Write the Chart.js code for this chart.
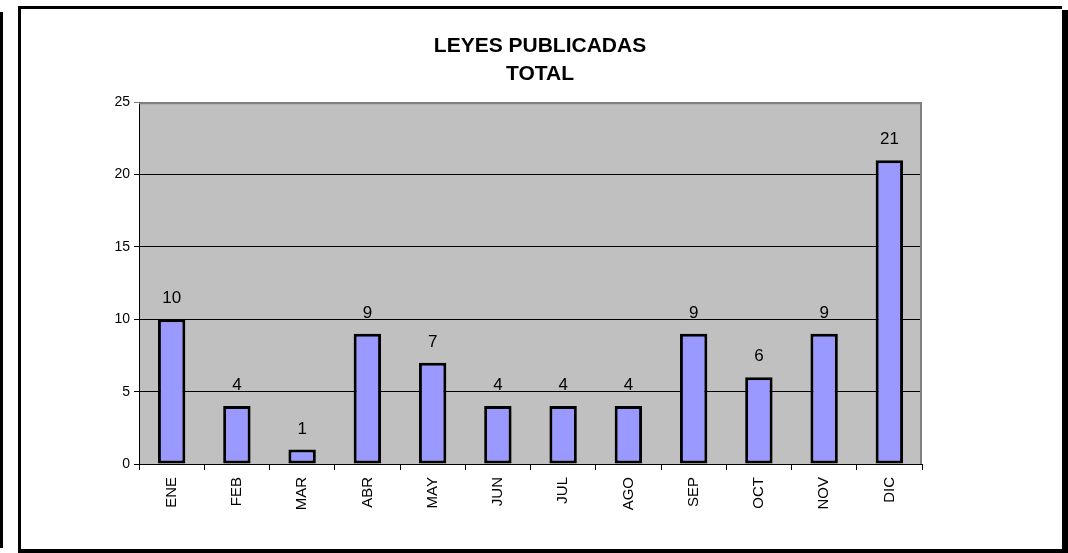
<!DOCTYPE html>
<html>
<head>
<meta charset="utf-8">
<script src="https://cdn.jsdelivr.net/npm/chart.js@4/dist/chart.umd.min.js"></script>
<style>
html,body{margin:0;padding:0;background:#fff;}
#wrap{position:absolute;left:0;top:0;width:1068px;height:553px;}
</style>
</head>
<body>
<div id="wrap"><canvas id="c" width="1068" height="553"></canvas></div>
<script>
const titleLines = ['LEYES PUBLICADAS', 'TOTAL'];
const months = ['ENE','FEB','MAR','ABR','MAY','JUN','JUL','AGO','SEP','OCT','NOV','DIC'];
const leyes = [10, 4, 1, 9, 7, 4, 4, 4, 9, 6, 9, 21];
const yTicks = [0, 5, 10, 15, 20, 25];

const FONT = "'Liberation Sans', Arial, sans-serif";

const framePlugin = {
  id: 'frame',
  beforeDraw(chart) {
    const ctx = chart.ctx;
    const a = chart.chartArea;
    ctx.save();
    ctx.fillStyle = '#fff';
    ctx.fillRect(0, 0, chart.width, chart.height);
    ctx.fillStyle = '#000';
    // far left line
    ctx.fillRect(0, 12, 3, 536);
    // chart frame
    ctx.fillRect(18, 6, 1044, 3);
    ctx.fillRect(18, 6, 3, 547);
    ctx.fillRect(18, 549, 1050, 4);
    ctx.fillRect(1062, 10, 6, 543);
    // plot background
    ctx.fillStyle = '#C0C0C0';
    ctx.fillRect(a.left, a.top, a.right - a.left, a.bottom - a.top);
    ctx.restore();
  },
  afterDraw(chart) {
    const ctx = chart.ctx;
    const a = chart.chartArea;
    ctx.save();
    ctx.strokeStyle = '#808080';
    ctx.lineWidth = 2;
    ctx.beginPath();
    ctx.moveTo(a.left, a.top + 1);
    ctx.lineTo(a.right - 1, a.top + 1);
    ctx.lineTo(a.right - 1, a.bottom);
    ctx.stroke();
    ctx.restore();
  }
};

const labelPlugin = {
  id: 'valueLabels',
  afterDatasetsDraw(chart) {
    const ctx = chart.ctx;
    const meta = chart.getDatasetMeta(0);
    ctx.save();
    ctx.fillStyle = '#000';
    ctx.font = '17px ' + FONT;
    ctx.textAlign = 'center';
    ctx.textBaseline = 'alphabetic';
    meta.data.forEach((bar, i) => {
      ctx.fillText(String(chart.data.datasets[0].data[i]), bar.x, bar.y - 16);
    });
    ctx.restore();
  }
};

new Chart(document.getElementById('c'), {
  type: 'bar',
  data: {
    labels: months,
    datasets: [{
      data: leyes,
      backgroundColor: '#9999FF',
      borderColor: '#000',
      borderWidth: 3,
      borderSkipped: false,
      categoryPercentage: 1,
      barPercentage: 0.42,
      yAxisID: 'y'
    }]
  },
  options: {
    responsive: false,
    animation: false,
    devicePixelRatio: 1,
    layout: { padding: { left: 12, right: 0, top: 32, bottom: 0 } },
    plugins: {
      legend: { display: false },
      tooltip: { enabled: false },
      title: {
        display: true,
        text: titleLines,
        color: '#000',
        font: { family: FONT, size: 21, weight: 'bold', lineHeight: 1.34 },
        padding: { top: 0, bottom: 14 }
      }
    },
    scales: {
      x: {
        grid: { drawOnChartArea: false, tickLength: 6, color: '#000', offset: true },
        border: { color: '#000', width: 1 },
        ticks: {
          color: '#000', font: { family: FONT, size: 15 },
          minRotation: 90, maxRotation: 90, autoSkip: false, padding: 7
        },
        afterFit(s) { s.height = 89; }
      },
      y: {
        position: 'left',
        min: 0, max: 25,
        afterBuildTicks(s) { s.ticks = yTicks.map(v => ({ value: v })); },
        grid: {
          tickLength: 5,
          color: (c) => (c.tick && c.tick.value === 25) ? '#808080' : '#000',
          lineWidth: 1
        },
        border: { color: '#000', width: 1 },
        ticks: { color: '#000', font: { family: FONT, size: 14 }, padding: 4 },
        afterFit(s) { s.width = 127; }
      },
      y2: {
        position: 'right',
        display: true,
        grid: { display: false },
        border: { display: false },
        ticks: { display: false },
        afterFit(s) { s.width = 146; }
      }
    }
  },
  plugins: [framePlugin, labelPlugin]
});
</script>
</body>
</html>
